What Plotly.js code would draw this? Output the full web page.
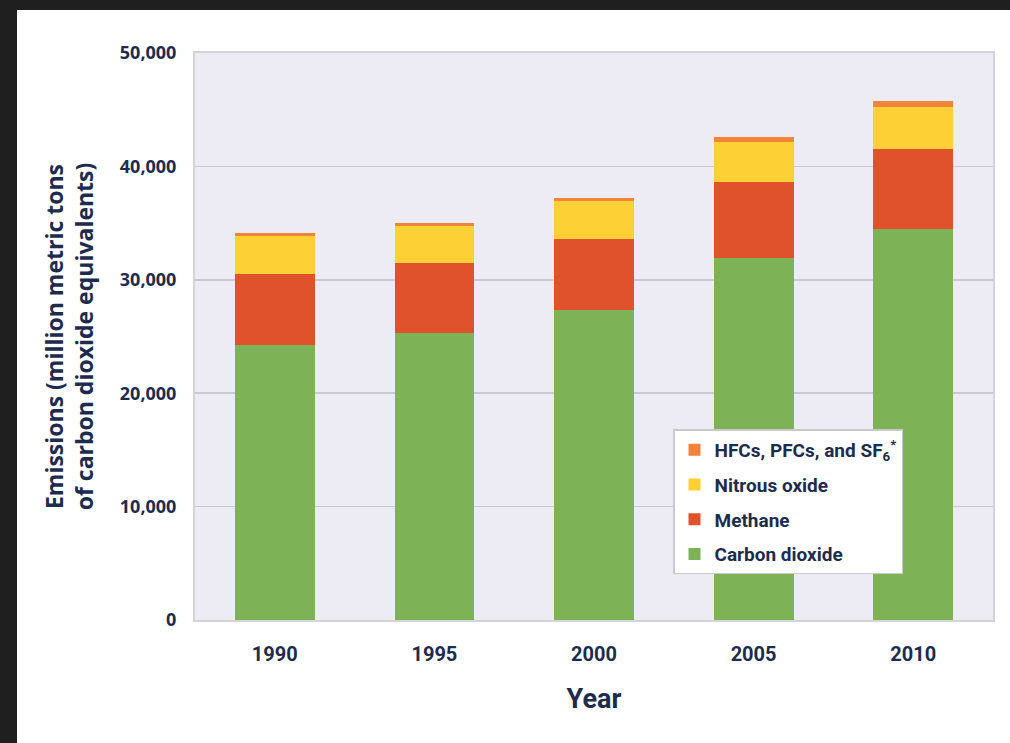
<!DOCTYPE html>
<html>
<head>
<meta charset="utf-8">
<script src="https://cdn.plot.ly/plotly-3.0.1.min.js"></script>
<style>html,body{margin:0;padding:0;background:#fff;}#chart{width:1010px;height:743px;}</style>
</head>
<body>
<div id="chart"></div>
<script>
var years = ['1990', '1995', '2000', '2005', '2010'];
var carbonDioxide = [24250, 25300, 27300, 31900, 34500];
var methane = [6250, 6200, 6300, 6700, 7000];
var nitrousOxide = [3400, 3250, 3350, 3550, 3700];
var fluorinated = [200, 250, 250, 450, 600];
var yTickVals = [0, 10000, 20000, 30000, 40000, 50000];
var yTickText = ['0', '10,000', '20,000', '30,000', '40,000', '50,000'];

var navy = '#1d2b4c';
var narrow = 'Roboto, "Open Sans", sans-serif';

function bar(name, vals, color, grp, rank) {
  return {
    type: 'bar', name: name, x: years, y: vals, legendgroup: grp, legendrank: rank,
    marker: {color: color, line: {width: 0}}, hoverinfo: 'y+name'
  };
}

var data = [
  bar('Carbon dioxide', carbonDioxide, '#7db356', 'co2', 4),
  bar('Methane', methane, '#e0522c', 'ch4', 3),
  bar('Nitrous oxide', nitrousOxide, '#fdd035', 'n2o', 2),
  bar('HFCs, PFCs, and SF<sub>6</sub><sup>*</sup>', fluorinated, '#ef843a', 'hfc', 1)
];

var layout = {
  width: 1010, height: 743,
  margin: {l: 195, r: 17, t: 53, b: 123, pad: 0},
  paper_bgcolor: '#ffffff',
  plot_bgcolor: '#edecf4',
  barmode: 'stack',
  bargap: 0.5,
  showlegend: true,
  legend: {
    x: 0.599, y: 0.336, xanchor: 'left', yanchor: 'top',
    bgcolor: '#ffffff', bordercolor: '#c9c9cc', borderwidth: 1.5,
    traceorder: 'grouped', tracegroupgap: 7,
    font: {family: narrow, size: 19, color: navy, weight: 'bold'}
  },
  xaxis: {
    type: 'category',
    range: [-0.5, 4.5],
    showline: true, mirror: true, linecolor: '#d3d3d8', linewidth: 2,
    ticks: '', showgrid: false,
    tickfont: {family: narrow, size: 20, color: navy, weight: 'bold'},
    ticklabelstandoff: 15,
    title: {text: 'Year', font: {family: narrow, size: 27, color: navy, weight: 'bold'}, standoff: 24}
  },
  yaxis: {
    range: [0, 50000],
    tickvals: yTickVals, ticktext: yTickText,
    showline: true, mirror: true, linecolor: '#d3d3d8', linewidth: 2,
    gridcolor: '#c9c9ce', gridwidth: 1.5,
    zeroline: false, ticks: '',
    ticklabelstandoff: 13,
    tickfont: {family: '"Open Sans", sans-serif', size: 18, color: navy, weight: 'bold'},
    title: {
      text: 'Emissions (million metric tons<br>of carbon dioxide equivalents)',
      font: {family: '"Open Sans", sans-serif', size: 23, color: navy, weight: 'bold'},
      standoff: 20
    }
  },
  shapes: [
    {type: 'rect', xref: 'paper', yref: 'paper', layer: 'below',
     x0: -0.3, x1: (17 - 195) / 798, y0: -0.3, y1: 1.2,
     fillcolor: '#1f1f1f', line: {width: 0}},
    {type: 'rect', xref: 'paper', yref: 'paper', layer: 'below',
     x0: -0.3, x1: 1.1, y0: (620 - 10) / 567, y1: 1.2,
     fillcolor: '#1f1f1f', line: {width: 0}}
  ]
};

Plotly.newPlot('chart', data, layout, {displayModeBar: false, staticPlot: true});
</script>
</body>
</html>
